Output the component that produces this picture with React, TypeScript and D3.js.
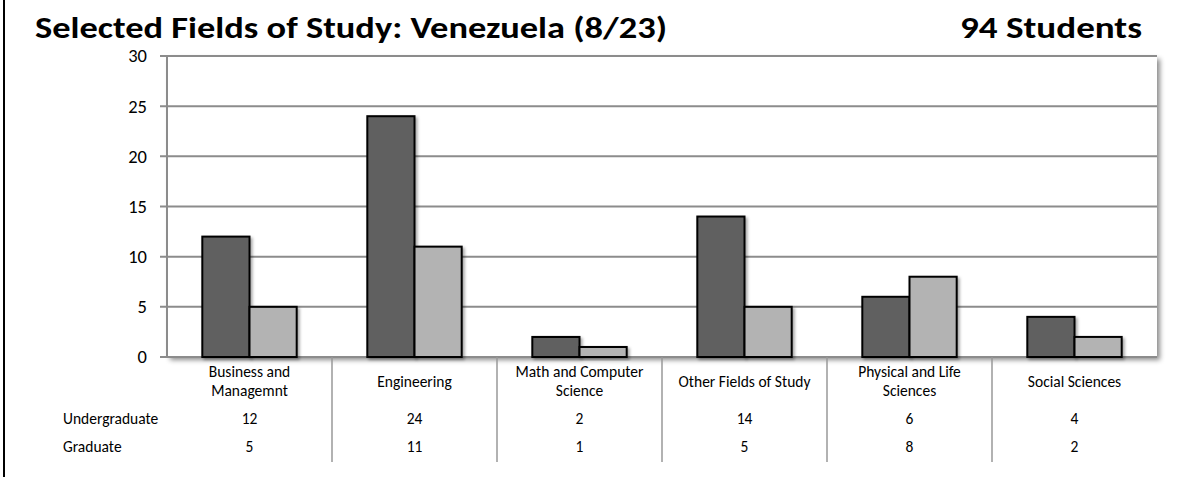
import React from "react";
import * as d3 from "d3";

const categories = [
  ["Business and", "Managemnt"],
  ["Engineering"],
  ["Math and Computer", "Science"],
  ["Other Fields of Study"],
  ["Physical and Life", "Sciences"],
  ["Social Sciences"],
];
const undergraduate = [12, 24, 2, 14, 6, 4];
const graduate = [5, 11, 1, 5, 8, 2];
const seriesNames = ["Undergraduate", "Graduate"];
const yTicks = [0, 5, 10, 15, 20, 25, 30];

const W = 1184;
const H = 477;
const left = 167;
const right = 1157;
const top = 56;
const bottom = 357;
const font = "Calibri, Carlito, 'Open Sans', sans-serif";

export default function App() {
  const x = d3
    .scaleBand<number>()
    .domain(d3.range(categories.length))
    .range([left, right]);
  const y = d3.scaleLinear().domain([0, 30]).range([bottom, top]);
  const bw = x.bandwidth();
  const barW = bw * 0.286;
  const series = [undergraduate, graduate];
  const colors = ["#606060", "#b3b3b3"];
  const rowY = [419, 447];
  const small = 15.5;

  return (
    <svg
      width={W}
      height={H}
      style={{ position: "absolute", left: 0, top: 0, background: "#fff" }}
      fontFamily={font}
    >
      <defs>
        <filter id="plotShadow" x="-5%" y="-5%" width="110%" height="115%">
          <feDropShadow dx="3" dy="3" stdDeviation="2.5" floodColor="#000" floodOpacity="0.45" />
        </filter>
        <filter id="barShadow" x="-20%" y="-20%" width="150%" height="150%">
          <feDropShadow dx="2" dy="2" stdDeviation="1.5" floodColor="#000" floodOpacity="0.35" />
        </filter>
      </defs>
      <rect x={0} y={0} width={W} height={H} fill="#fff" />
      <line x1={4} x2={4} y1={0} y2={H} stroke="#000" strokeWidth={2} />

      <text
        x={35}
        y={38}
        fontSize={30}
        fontWeight="bold"
        fill="#000"
        textLength={632}
        lengthAdjust="spacingAndGlyphs"
      >
        Selected Fields of Study: Venezuela (8/23)
      </text>
      <text
        x={960}
        y={38}
        fontSize={30}
        fontWeight="bold"
        fill="#000"
        textLength={182}
        lengthAdjust="spacingAndGlyphs"
      >
        94 Students
      </text>

      <rect
        x={left}
        y={top}
        width={right - left}
        height={bottom - top}
        fill="#fff"
        filter="url(#plotShadow)"
      />

      {yTicks.map((t) => (
        <g key={t}>
          <line x1={160} x2={right} y1={y(t)} y2={y(t)} stroke="#8c8c8c" strokeWidth={2} />
          <text x={147} y={y(t)} dy="0.35em" fontSize={18.5} textAnchor="end" fill="#000">
            {t}
          </text>
        </g>
      ))}
      <line x1={left} x2={left} y1={top} y2={bottom} stroke="#8c8c8c" strokeWidth={2} />

      {series.map((vals, s) =>
        vals.map((v, i) => {
          const cx = x(i)! + bw / 2;
          const bx = s === 0 ? cx - barW : cx;
          return (
            <rect
              key={`${s}-${i}`}
              x={bx}
              y={y(v)}
              width={barW}
              height={bottom - y(v)}
              fill={colors[s]}
              stroke="#000"
              strokeWidth={2}
              filter="url(#barShadow)"
            />
          );
        })
      )}

      {d3.range(1, categories.length).map((i) => (
        <line
          key={i}
          x1={x(i)!}
          x2={x(i)!}
          y1={bottom}
          y2={462}
          stroke="#999"
          strokeWidth={1.5}
        />
      ))}

      {categories.map((lines, i) => {
        const cx = x(i)! + bw / 2;
        const startY = lines.length === 2 ? 377 : 387;
        return (
          <text key={i} x={cx} y={startY} fontSize={small} textAnchor="middle" fill="#000">
            {lines.map((l, k) => (
              <tspan key={k} x={cx} dy={k === 0 ? 0 : 19}>
                {l}
              </tspan>
            ))}
          </text>
        );
      })}

      {seriesNames.map((name, s) => (
        <g key={name}>
          <text x={63} y={rowY[s]} dy="0.35em" fontSize={small} fill="#000">
            {name}
          </text>
          {series[s].map((v, i) => (
            <text
              key={i}
              x={x(i)! + bw / 2}
              y={rowY[s]}
              dy="0.35em"
              fontSize={small}
              textAnchor="middle"
              fill="#000"
            >
              {v}
            </text>
          ))}
        </g>
      ))}
    </svg>
  );
}
